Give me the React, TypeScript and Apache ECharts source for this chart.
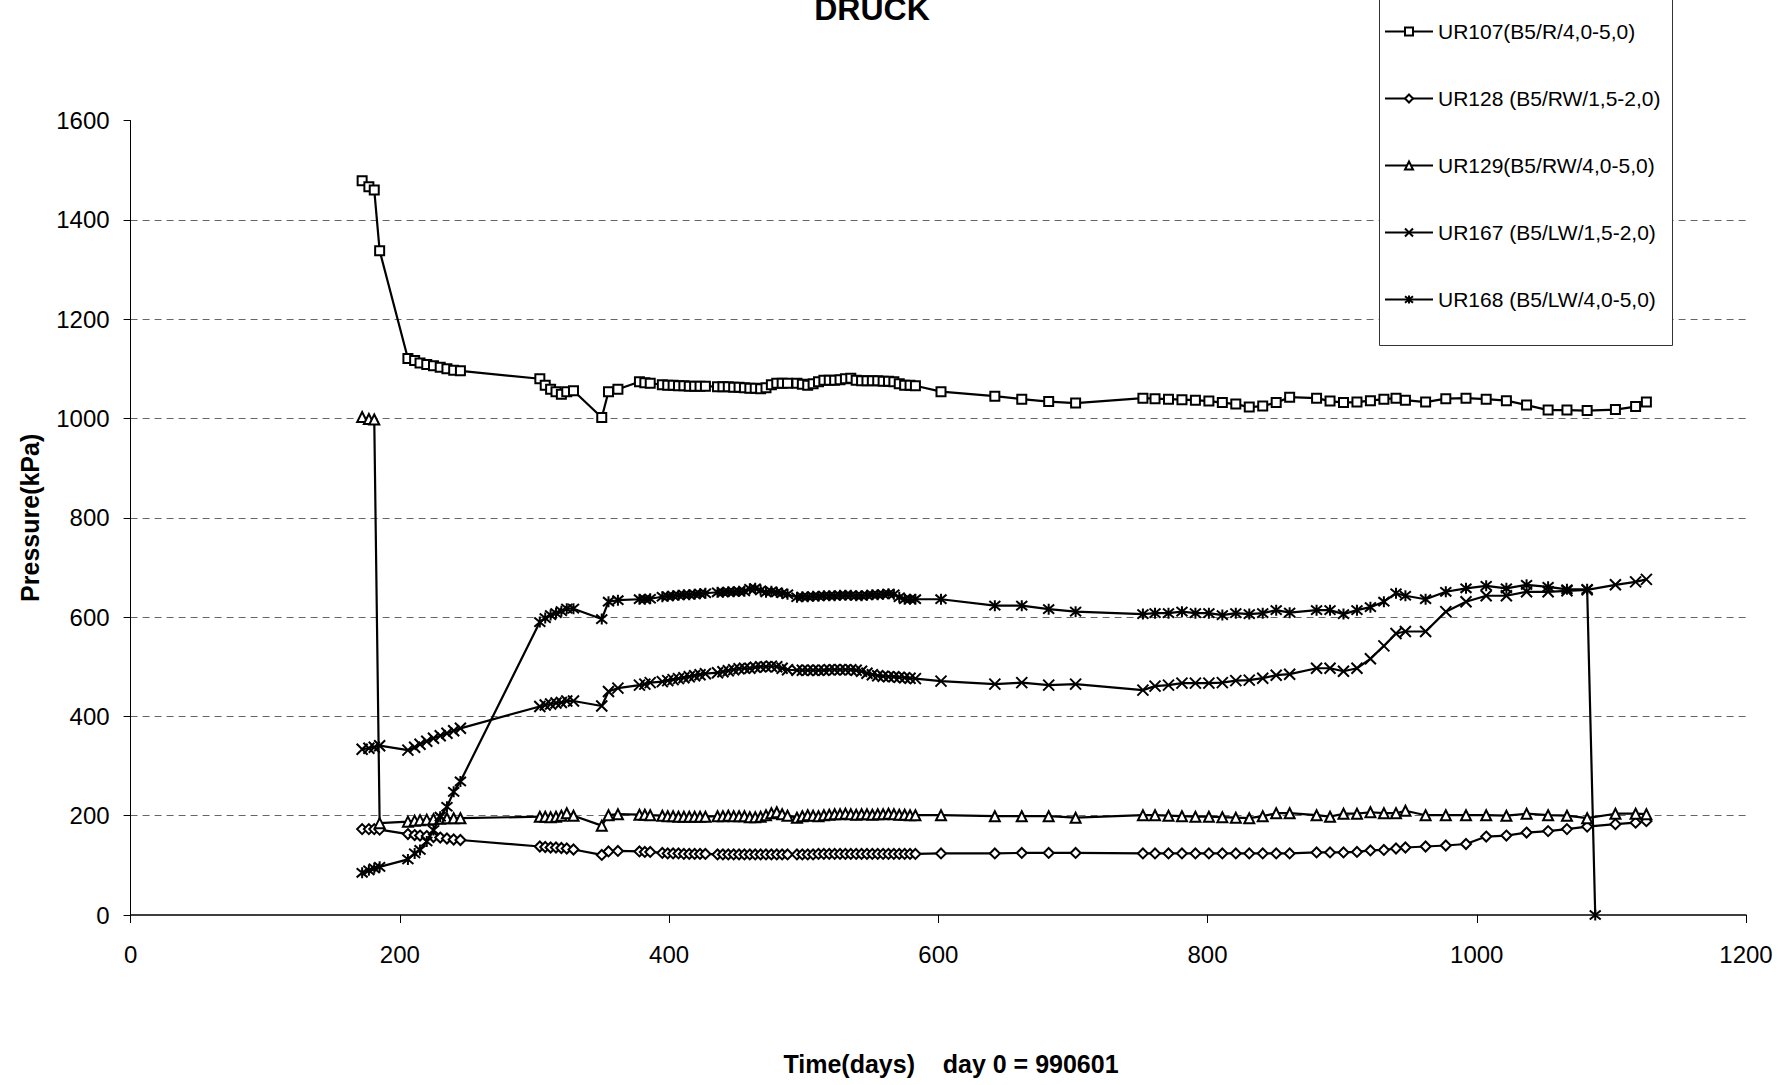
import React, { useEffect, useRef } from "react";
import * as echarts from "echarts";

const FONT = "'Liberation Sans', Arial, Helvetica, sans-serif";

// measurement days (day 0 = 990601)
const days = [
  172, 177, 181, 185,
  206, 211, 215, 220, 225, 230, 235, 240, 245,
  304, 308, 312, 316, 320, 324, 329,
  350, 355, 362,
  378, 382, 386,
  395, 399, 403, 407, 411, 415, 419, 423, 427,
  436, 440, 444, 448, 452, 456,
  460, 464, 468, 472, 476, 480, 484, 488,
  495, 499, 503, 507, 511, 515, 519, 523, 527, 531, 535, 539, 543, 547, 551, 555, 559, 563, 567, 571, 575, 579, 583,
  602, 642, 662, 682, 702,
  752, 761, 771, 781, 791, 801, 811, 821, 831, 841, 851, 861,
  881, 891, 901, 911, 921, 931, 940, 947, 962, 977, 992, 1007, 1022, 1037, 1053, 1067, 1082,
  1088,
  1103, 1118, 1126,
];

const ur107 = [
  1479, 1467, 1460, 1338,
  1121, 1117, 1112, 1109, 1106, 1103, 1100, 1097, 1096,
  1080, 1067, 1059, 1054, 1049, 1054, 1056,
  1002, 1054, 1059,
  1074, 1072, 1071,
  1068, 1067, 1067, 1066, 1066, 1065, 1065, 1065, 1065,
  1064, 1064, 1064, 1063, 1063, 1062,
  1061, 1061, 1060, 1062, 1068, 1071, 1071, 1071,
  1071, 1069, 1067, 1070, 1074, 1077, 1077, 1077, 1078, 1080, 1081, 1077, 1076, 1076, 1076, 1076, 1075, 1075, 1074, 1070, 1067, 1067, 1066,
  1054, 1045, 1039, 1034, 1031,
  1041, 1040, 1039, 1038, 1037, 1035, 1032, 1029, 1023, 1025, 1032, 1043,
  1041, 1035, 1032, 1033, 1036, 1039, 1041, 1037, 1033, 1040, 1041, 1039, 1036, 1027, 1017, 1017, 1016,
  null,
  1018, 1024, 1033,
];

const ur128 = [
  173, 173, 173, 172,
  163, 161, 160, 159, 157, 156, 154, 152, 151,
  138, 137, 136, 136, 135, 134, 132,
  121, 128, 129,
  128, 127, 127,
  125, 124, 124, 124, 123, 123, 123, 123, 123,
  122, 122, 122, 122, 122, 122,
  122, 122, 122, 122, 122, 122, 122, 122,
  122, 122, 122, 122, 123, 123, 123, 123, 123, 123, 123, 123, 123, 123, 123, 123, 123, 123, 123, 123, 123, 123, 123,
  124, 124, 125, 125, 125,
  124, 124, 124, 124, 124, 124, 124, 124, 124, 124, 124, 124,
  126, 126, 126, 127, 130, 131, 134, 136, 138, 140, 143, 158, 160, 166, 169, 173, 178,
  null,
  183, 186, 189,
];

const ur129 = [
  1003, 999, 998, 185,
  188, 190, 191, 192, 193, 194, 195, 195, 195,
  198, 198, 197, 198, 200, 205, 200,
  180, 201, 203,
  202, 202, 201,
  200, 199, 199, 198, 198, 198, 198, 198, 198,
  199, 199, 200, 199, 199, 199,
  197, 197, 198, 201, 205, 207, 203, 200,
  196, 199, 201, 200, 199, 201, 202, 203, 203, 204, 203, 202, 203, 203, 202, 203, 203, 204, 203, 202, 202, 201, 201,
  201, 199, 199, 199, 196,
  201, 201, 200, 199, 198, 198, 197, 196, 195, 199, 205, 205,
  201, 198, 204, 204, 207, 205, 205, 210, 201, 201, 201, 201, 200, 204, 201, 200, 195,
  null,
  204, 204, 203,
];

const ur167 = [
  334, 336, 338, 341,
  332, 338, 344, 350, 356, 361, 366, 371, 376,
  420, 423, 425, 427, 428, 431, 431,
  421, 450, 457,
  463, 465, 468,
  470, 472, 474, 476, 478, 480, 482, 484, 486,
  488, 490, 492, 494, 496, 497,
  497, 499, 500, 500, 501, 500, 497, 494,
  493, 493, 493, 493, 493, 493, 494, 494, 494, 494, 494, 493, 491, 487, 484, 482, 481, 480, 480, 479, 478, 477, 476,
  471, 465, 468, 463, 465,
  453, 461, 463, 467, 467, 467, 468, 472, 473, 477, 483, 485,
  497, 497, 491, 497, 516, 542, 567, 571, 571, 611, 631, 643, 643, 651, 651, 653, 655,
  null,
  665, 671, 676,
];

const ur168 = [
  85, 90, 94, 97,
  112, 124, 131, 148, 171, 198, 218, 248, 269,
  590, 598, 604, 608, 612, 617, 617,
  596, 631, 634,
  636, 636, 637,
  641, 642, 643, 644, 645, 645, 646, 647, 648,
  650, 650, 651, 651, 652, 652,
  657, 658, 654, 650, 652, 650, 648, 646,
  640, 641, 641, 642, 642, 643, 643, 643, 644, 644, 644, 643, 643, 644, 645, 645, 646, 647, 646, 640, 636, 636, 636,
  636, 623, 623, 616, 611,
  606, 608, 608, 611, 608, 608, 604, 608, 606, 608, 614, 609,
  614, 614, 606, 614, 620, 631, 648, 643, 636, 651, 658, 663, 658, 665, 661, 656, 656,
  0,
  null, null, null,
];

const seriesNames = [
  "UR107(B5/R/4,0-5,0)",
  "UR128 (B5/RW/1,5-2,0)",
  "UR129(B5/RW/4,0-5,0)",
  "UR167 (B5/LW/1,5-2,0)",
  "UR168 (B5/LW/4,0-5,0)",
];
const seriesValues = [ur107, ur128, ur129, ur167, ur168];
const seriesSymbols = [
  "rect",
  "diamond",
  "triangle",
  "path://M0,0L10,10M10,0L0,10",
  "path://M0,0L10,10M10,0L0,10M5,-1L5,11",
];
const symbolSizes = [9, 10, 10, 11, 11];

const title = "DRUCK";
const xTitle = "Time(days)    day 0 = 990601";
const yTitle = "Pressure(kPa)";

export default function App() {
  const ref = useRef<HTMLDivElement>(null);

  useEffect(() => {
    const chart = echarts.init(ref.current!, null, { renderer: "svg" });

    const series = seriesNames.map((name, si) => ({
      name,
      type: "line",
      data: days
        .map((d, i) => [d, seriesValues[si][i]])
        .filter((p) => p[1] !== null && p[1] !== undefined),
      symbol: seriesSymbols[si],
      symbolSize: symbolSizes[si],
      showAllSymbol: true,
      lineStyle: { color: "#000", width: 2.2 },
      itemStyle: { color: "#fff", borderColor: "#000", borderWidth: 2 },
      emphasis: { disabled: true },
      silent: true,
      z: 2 + si,
    }));

    chart.setOption({
      animation: false,
      backgroundColor: "#fff",
      textStyle: { fontFamily: FONT },
      grid: {
        left: 130.6,
        right: 35,
        top: 120.6,
        bottom: 170,
        containLabel: false,
        outerBoundsMode: "none",
      },
      xAxis: {
        type: "value",
        min: 0,
        max: 1200,
        interval: 200,
        axisLine: { show: true, onZero: false, lineStyle: { color: "#000", width: 1.5 } },
        axisTick: { show: true, inside: false, length: 8, lineStyle: { color: "#000", width: 1 } },
        axisLabel: {
          fontSize: 24,
          color: "#000",
          margin: 27,
          fontFamily: FONT,
          formatter: (v: number) => String(v),
        },
        splitLine: { show: false },
      },
      yAxis: {
        type: "value",
        min: 0,
        max: 1600,
        interval: 200,
        axisLine: { show: true, lineStyle: { color: "#000", width: 1 } },
        axisTick: { show: true, inside: false, length: 7, lineStyle: { color: "#000", width: 1 } },
        axisLabel: {
          fontSize: 24,
          color: "#000",
          margin: 21,
          fontFamily: FONT,
          formatter: (v: number) => String(v),
        },
        splitLine: {
          show: true,
          showMinLine: false,
          showMaxLine: false,
          lineStyle: { color: "#666", width: 1, type: [7, 5] },
        },
      },
      legend: {
        show: true,
        orient: "vertical",
        left: 1384,
        top: 21,
        padding: 0,
        itemWidth: 48,
        itemHeight: 10,
        itemGap: 46,
        selectedMode: false,
        data: seriesNames,
        z: 6,
        textStyle: { fontSize: 21, lineHeight: 21, color: "#000", fontFamily: FONT },
      },
      graphic: [
        {
          type: "rect",
          z: 5,
          shape: { x: 1379.5, y: -5, width: 293, height: 350.5 },
          style: { fill: "#fff", stroke: "#333", lineWidth: 1 },
          silent: true,
        },
        {
          type: "text",
          x: 872,
          y: 9,
          z: 6,
          style: {
            text: title,
            fontSize: 32,
            fontWeight: "bold",
            fontFamily: FONT,
            fill: "#000",
            align: "center",
            verticalAlign: "middle",
          },
        },
        {
          type: "text",
          x: 951,
          y: 1064,
          z: 6,
          style: {
            text: xTitle,
            fontSize: 25,
            fontWeight: "bold",
            fontFamily: FONT,
            fill: "#000",
            align: "center",
            verticalAlign: "middle",
          },
        },
        {
          type: "text",
          x: 30,
          y: 517.8,
          rotation: Math.PI / 2,
          z: 6,
          style: {
            text: yTitle,
            fontSize: 25,
            fontWeight: "bold",
            fontFamily: FONT,
            fill: "#000",
            align: "center",
            verticalAlign: "middle",
          },
        },
      ],
      series,
    });

    return () => chart.dispose();
  }, []);

  return (
    <div
      ref={ref}
      style={{ position: "fixed", left: 0, top: 0, width: 1781, height: 1085, background: "#fff" }}
    />
  );
}
